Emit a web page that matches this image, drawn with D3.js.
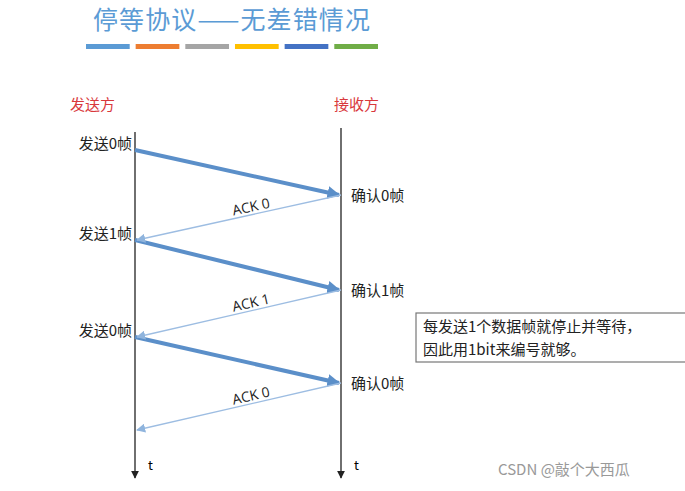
<!DOCTYPE html>
<html><head><meta charset="utf-8">
<script src="https://cdn.jsdelivr.net/npm/d3@7"></script>
<style>body{margin:0;background:#fff}</style></head>
<body><div id="chart"></div>
<script>
const sides = ["sender", "receiver"];
const sideTitles = ["发送方", "接收方"];
const sendTimes = [150, 240, 337];
const recvTimes = [195, 290, 383];
const ackEnds = [240, 337, 430];
const sendLabels = ["发送0帧", "发送1帧", "发送0帧"];
const recvLabels = ["确认0帧", "确认1帧", "确认0帧"];
const ackLabels = ["ACK 0", "ACK 1", "ACK 0"];
const barColors = ["#5b9bd5", "#ed7d31", "#a5a5a5", "#ffc000", "#4472c4", "#70ad47"];

const width = 685, height = 491;
const font = "'Noto Sans CJK SC', 'Noto Sans', sans-serif";
const svg = d3.select("#chart").append("svg").attr("width", width).attr("height", height)
  .style("font-family", font);

const x = d3.scalePoint().domain(sides).range([135, 341]);
const y = d3.scaleLinear().domain([0, 491]).range([0, 491]);

const defs = svg.append("defs");
function marker(id, color, w) {
  defs.append("marker").attr("id", id).attr("viewBox", "0 0 10 10").attr("refX", 9).attr("refY", 5)
    .attr("markerWidth", w).attr("markerHeight", w).attr("orient", "auto-start-reverse")
    .append("path").attr("d", "M0,0L10,5L0,10z").attr("fill", color);
}
marker("thick", "#5b8fc9", 3.2);
marker("thin", "#8fb4dd", 7);
marker("axis", "#222", 6);

// title + color bars
svg.append("text").attr("x", 93).attr("y", 29).attr("font-size", 25).attr("fill", "#5b9bd5")
  .attr("textLength", 277).text("停等协议——无差错情况");
const bx = d3.scaleBand().domain(d3.range(barColors.length)).range([86, 378]).paddingInner(0.12);
svg.selectAll(".cbar").data(barColors).enter().append("rect")
  .attr("x", (d, i) => bx(i)).attr("y", 44).attr("width", bx.bandwidth()).attr("height", 5)
  .attr("fill", d => d);

// side titles
svg.selectAll(".side").data(sides).enter().append("text")
  .attr("x", d => x(d) + (d === "sender" ? -65 : -7)).attr("y", 110)
  .attr("font-size", 15).attr("fill", "#d9393c").text((d, i) => sideTitles[i]);

// timelines
svg.selectAll(".tl").data(sides).enter().append("line")
  .attr("x1", d => x(d)).attr("x2", d => x(d))
  .attr("y1", d => d === "sender" ? y(132) : y(128)).attr("y2", y(478))
  .attr("stroke", "#222").attr("stroke-width", 1.3).attr("marker-end", "url(#axis)");
svg.selectAll(".tt").data(sides).enter().append("text")
  .attr("x", d => x(d) + 13).attr("y", y(470)).attr("font-size", 13).text("t");

// data frames
svg.selectAll(".frame").data(sendTimes).enter().append("line")
  .attr("x1", x("sender")).attr("y1", d => y(d))
  .attr("x2", x("receiver") - 2).attr("y2", (d, i) => y(recvTimes[i]))
  .attr("stroke", "#5b8fc9").attr("stroke-width", 4).attr("marker-end", "url(#thick)");

// acks
svg.selectAll(".ack").data(recvTimes).enter().append("line")
  .attr("x1", x("receiver")).attr("y1", d => y(d))
  .attr("x2", x("sender") + 2).attr("y2", (d, i) => y(ackEnds[i]))
  .attr("stroke", "#9dbde2").attr("stroke-width", 1.3).attr("marker-end", "url(#thin)");

const ang = (a, b) => Math.atan2(y(b) - y(a), x("sender") - x("receiver")) * 180 / Math.PI + 180;
svg.selectAll(".ackl").data(recvTimes).enter().append("text")
  .attr("transform", (d, i) => {
    const mx = (x("sender") + x("receiver")) / 2 + 14, my = (y(d) + y(ackEnds[i])) / 2 - 6;
    return `translate(${mx},${my}) rotate(${ang(d, ackEnds[i])})`;
  })
  .attr("text-anchor", "middle").attr("font-size", 14).attr("fill", "#222")
  .attr("font-family", "'Open Sans', sans-serif").text((d, i) => ackLabels[i]);

svg.selectAll(".sl").data(sendTimes).enter().append("text")
  .attr("x", x("sender") - 3).attr("y", d => y(d) - 1).attr("text-anchor", "end")
  .attr("font-size", 15).attr("fill", "#222").text((d, i) => sendLabels[i]);
svg.selectAll(".rl").data(recvTimes).enter().append("text")
  .attr("x", x("receiver") + 10).attr("y", d => y(d) + 6)
  .attr("font-size", 15).attr("fill", "#222").text((d, i) => recvLabels[i]);

// note box
svg.append("rect").attr("x", 416).attr("y", 313).attr("width", 275).attr("height", 49)
  .attr("fill", "#fff").attr("stroke", "#777").attr("stroke-width", 1.2);
svg.append("text").attr("x", 423).attr("y", 332).attr("font-size", 15).attr("fill", "#222")
  .text("每发送1个数据帧就停止并等待，");
svg.append("text").attr("x", 423).attr("y", 355).attr("font-size", 15).attr("fill", "#222")
  .text("因此用1bit来编号就够。");

svg.append("text").attr("x", 498).attr("y", 475).attr("font-size", 15).attr("fill", "#999")
  .text("CSDN @敲个大西瓜");
</script></body></html>
